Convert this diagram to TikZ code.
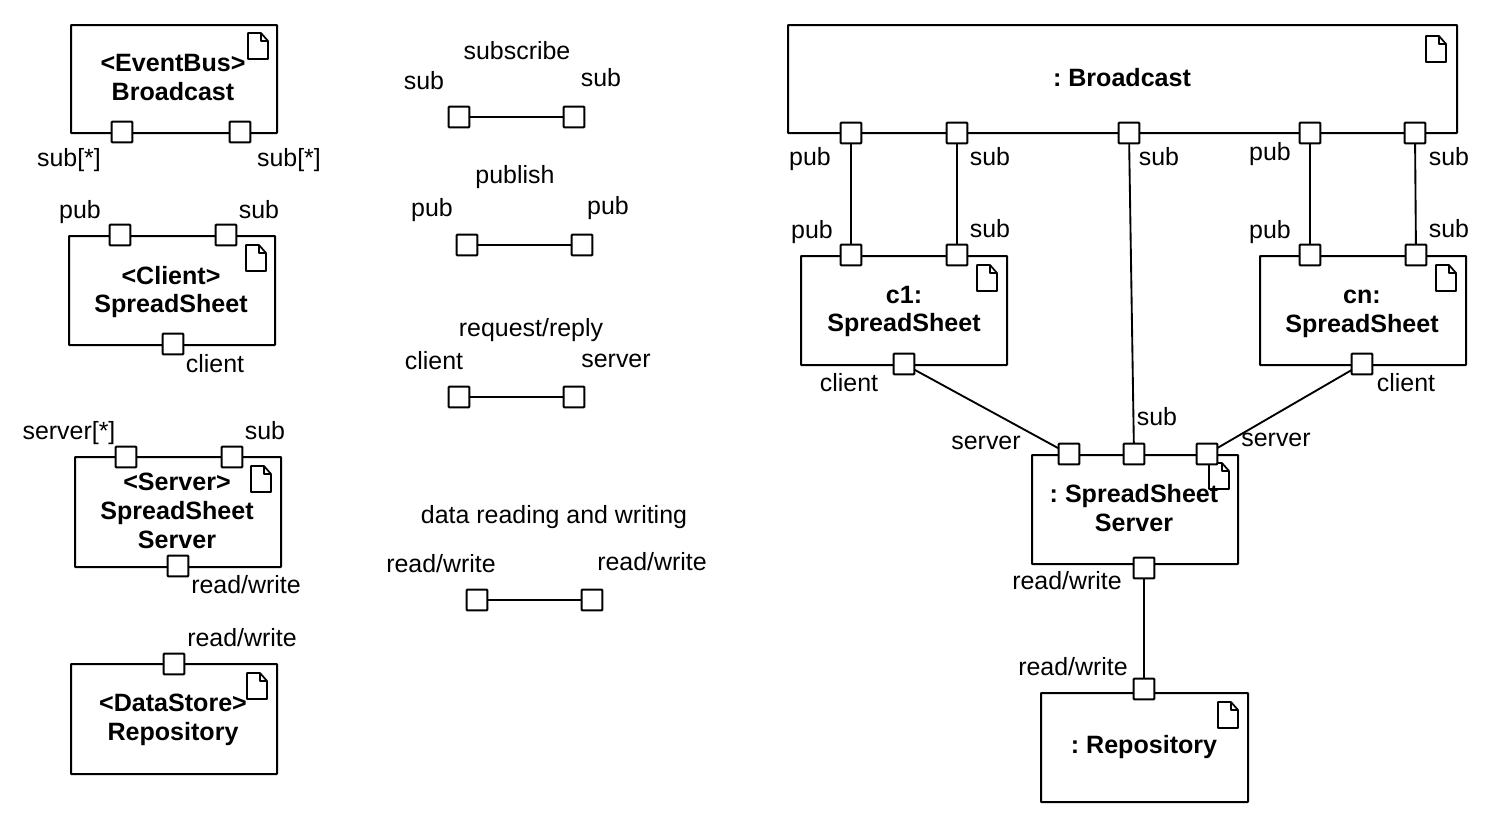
\documentclass[tikz,border=0pt]{standalone}
\usepackage{fontspec}
\setmainfont{Liberation Sans}
\frenchspacing
\tikzset{
  comp/.style={draw=black,line width=1.5pt,fill=white,anchor=north west,inner sep=0pt,outer sep=0pt,rounded corners=0.4pt},
  port/.style={draw=black,line width=1.5pt,fill=white,minimum size=15.5pt,inner sep=0pt,outer sep=0pt,rounded corners=0.6pt},
  wire/.style={draw=black,line width=1.4pt},
  lbl/.style={font=\fontsize{18.7}{21.6}\selectfont,inner sep=0pt,outer sep=0pt},
  ttl/.style={font=\fontsize{18.8}{21.6}\selectfont\bfseries,align=center,inner sep=0pt,outer sep=0pt},
  doc/.style={draw=black,line width=1.3pt,line join=round,fill=white}
}
\newcommand{\mkbox}[5]{\node[comp,minimum width=#4*0.75pt,minimum height=#5*0.75pt] (#1) at (#2,#3) {};}
\newcommand{\mkdoc}[2]{\draw[doc] (#1,#2) -- ++(13,0) -- ++(7,8) -- ++(0,18) -- ++(-20,0) -- cycle;
  \draw[doc,fill=none] ($(#1,#2)+(13,0)$) -- ++(0,8) -- ++(7,0);}
\usetikzlibrary{calc}
\begin{document}
\begin{tikzpicture}[x=0.75pt,y=-0.75pt]
\useasboundingbox (0,0) rectangle (1496,826);
% left column
\mkbox{bdef}{71}{25}{206}{108}\mkdoc{248}{33}
\node[ttl] (tbdef) at (173,77.5) {<EventBus>\\Broadcast};
\node[port] (bdefa) at (122,132) {}; \node[port] (bdefb) at (240,132) {};
\node[lbl] (l1) at (69,160) {sub[*]}; \node[lbl] (l2) at (289,160) {sub[*]};

\mkbox{cdef}{69}{236}{206}{109}\mkdoc{246}{245}
\node[ttl] (tcdef) at (171,292) {<Client>\\SpreadSheet};
\node[port] (cdefa) at (120,235) {}; \node[port] (cdefb) at (226,235) {}; \node[port] (cdefc) at (173,344) {};
\node[lbl] (l3) at (80,212) {pub}; \node[lbl] (l4) at (259,210) {sub}; \node[lbl] (l5) at (215,364) {client};

\mkbox{sdef}{75}{457}{206}{110}\mkdoc{251}{466}
\node[ttl] (tsdef) at (177,511) {<Server>\\SpreadSheet\\Server};
\node[port] (sdefa) at (126,457) {}; \node[port] (sdefb) at (232,457) {}; \node[port] (sdefc) at (178,566) {};
\node[lbl] (l6) at (69,433) {server[*]}; \node[lbl] (l7) at (265,431) {sub}; \node[lbl] (l8) at (246,585) {read/write};

\mkbox{rdef}{71}{664}{206}{110}\mkdoc{247}{673}
\node[ttl] (trdef) at (173,720) {<DataStore>\\Repository};
\node[port] (rdefa) at (174,664) {};
\node[lbl] (l9) at (242,638) {read/write};

% middle column
\node[lbl] (m1) at (517,51) {subscribe}; \node[lbl] (m2) at (424,81) {sub}; \node[lbl] (m3) at (601,78) {sub};
\node[port] (ma) at (459,117) {}; \node[port] (mb) at (574,117) {};
\draw[wire] (ma) -- (mb);
\node[lbl] (m4) at (515,177) {publish}; \node[lbl] (m5) at (432,210) {pub}; \node[lbl] (m6) at (608,208) {pub};
\node[port] (mc) at (467,245) {}; \node[port] (md) at (582,245) {};
\draw[wire] (mc) -- (md);
\node[lbl] (m7) at (531,330) {request/reply}; \node[lbl] (m8) at (434,361) {client}; \node[lbl] (m9) at (616,361) {server};
\node[port] (me) at (459,397) {}; \node[port] (mf) at (574,397) {};
\draw[wire] (me) -- (mf);
\node[lbl] (m10) at (554,517) {data reading and writing}; \node[lbl] (m11) at (441,564) {read/write}; \node[lbl] (m12) at (652,562) {read/write};
\node[port] (mg) at (477,600) {}; \node[port] (mh) at (592,600) {};
\draw[wire] (mg) -- (mh);

% right assembly
\mkbox{bus}{788}{25}{669}{108}\mkdoc{1426}{36}
\node[ttl] (tbus) at (1122,78) {: Broadcast};
\mkbox{cone}{801}{256}{206}{109}\mkdoc{977}{265}
\node[ttl] (tcone) at (904,311.5) {c1:\\SpreadSheet};
\mkbox{cnn}{1260}{256}{206}{109}\mkdoc{1436}{265}
\node[ttl] (tcnn) at (1362,313.5) {cn:\\SpreadSheet};
\mkbox{srv}{1032}{455}{206}{109}\mkdoc{1209}{463}
\node[ttl] (tsrv) at (1134,508) {: SpreadSheet\\Server};
\mkbox{repo}{1041}{693}{207}{109}\mkdoc{1218}{702}
\node[ttl] (trepo) at (1144,747) {: Repository};

\node[port] (busa) at (851,133) {}; \node[port] (busb) at (957,133) {}; \node[port] (busc) at (1129,133) {};
\node[port] (busd) at (1310,133) {}; \node[port] (buse) at (1415,133) {};
\node[port] (conea) at (851,255) {}; \node[port] (coneb) at (957,255) {}; \node[port] (conec) at (904,364) {};
\node[port] (cnna) at (1310,255) {}; \node[port] (cnnb) at (1416,255) {}; \node[port] (cnnc) at (1362,364) {};
\node[port] (srva) at (1069,454) {}; \node[port] (srvb) at (1134,454) {}; \node[port] (srvc) at (1207,454) {}; \node[port] (srvd) at (1144,568) {};
\node[port] (repoa) at (1144,689) {};

\draw[wire] (busa) -- (conea);
\draw[wire] (busb) -- (coneb);
\draw[wire] (busc) -- (srvb);
\draw[wire] (busd) -- (cnna);
\draw[wire] (buse) -- (cnnb);
\draw[wire] (conec) -- (srva);
\draw[wire] (cnnc) -- (srvc);
\draw[wire] (srvd) -- (repoa);

\node[lbl] (r1) at (810,159) {pub}; \node[lbl] (r2) at (990,157) {sub}; \node[lbl] (r3) at (1159,157) {sub};
\node[lbl] (r4) at (1270,154) {pub}; \node[lbl] (r5) at (1449,157) {sub};
\node[lbl] (r6) at (812,232) {pub}; \node[lbl] (r7) at (990,229) {sub};
\node[lbl] (r8) at (1270,232) {pub}; \node[lbl] (r9) at (1449,229) {sub};
\node[lbl] (r10) at (849,383) {client}; \node[lbl] (r11) at (1406,383) {client};
\node[lbl] (r12) at (986,443) {server}; \node[lbl] (r13) at (1157,417) {sub}; \node[lbl] (r14) at (1276,440) {server};
\node[lbl] (r15) at (1067,581) {read/write}; \node[lbl] (r16) at (1073,667) {read/write};
\end{tikzpicture}
\end{document}
